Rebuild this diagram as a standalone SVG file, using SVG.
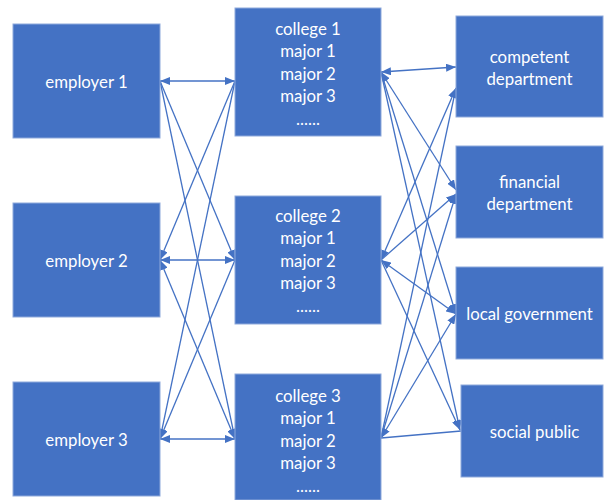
<svg xmlns="http://www.w3.org/2000/svg" width="605" height="500" viewBox="0 0 605 500">
  <style>
    .box { fill: #4472C4; stroke: #8EA9DB; stroke-width: 1; }
    .lbl { fill: #FFFFFF; font-family: Lato, "Liberation Sans", sans-serif; font-size: 16.8px; text-anchor: middle; dominant-baseline: central; }
    .ln { fill: none; stroke: #4472C4; stroke-width: 1.3; }
    .end { marker-end: url(#arrow); }
    .both { marker-start: url(#arrow); marker-end: url(#arrow); }
  </style>
  <defs>
    <marker id="arrow" viewBox="0 0 10 8" refX="10" refY="4" markerWidth="10" markerHeight="8" markerUnits="userSpaceOnUse" orient="auto-start-reverse">
      <path d="M0,0 L10,4 L0,8 z" fill="#4472C4"/>
    </marker>
  </defs>

  <!-- connectors -->
  <g id="connectors">
    <!-- employers to colleges -->
    <line class="ln both" x1="160" y1="81" x2="235" y2="81"/>
    <line class="ln both" x1="160" y1="260" x2="235" y2="260"/>
    <line class="ln both" x1="160" y1="439" x2="235" y2="439"/>
    <line class="ln end" x1="160" y1="81" x2="235" y2="260"/>
    <line class="ln end" x1="160" y1="81" x2="235" y2="439"/>
    <line class="ln end" x1="235" y1="81" x2="160" y2="260"/>
    <line class="ln end" x1="235" y1="81" x2="160" y2="439"/>
    <line class="ln end" x1="235" y1="260" x2="160" y2="439"/>
    <line class="ln both" x1="160" y1="260" x2="235" y2="439"/>
    <!-- colleges to departments -->
    <line class="ln both" x1="381" y1="72" x2="456" y2="67"/>
    <line class="ln both" x1="381" y1="72" x2="456" y2="190"/>
    <line class="ln end" x1="381" y1="72" x2="456" y2="314"/>
    <line class="ln end" x1="381" y1="72" x2="460" y2="430"/>
    <line class="ln both" x1="381" y1="260" x2="456" y2="88"/>
    <line class="ln end" x1="381" y1="260" x2="456" y2="194"/>
    <line class="ln both" x1="381" y1="260" x2="456" y2="314"/>
    <line class="ln end" x1="381" y1="260" x2="460" y2="430"/>
    <line class="ln end" x1="381" y1="438" x2="456" y2="88"/>
    <line class="ln end" x1="381" y1="438" x2="456" y2="194"/>
    <line class="ln both" x1="381" y1="438" x2="456" y2="314"/>
    <line class="ln" x1="381" y1="438" x2="461" y2="431"/>
  </g>

  <g id="employer1">
    <rect class="box" x="13" y="24" width="147" height="114"/>
    <text class="lbl" x="86.5" y="81">employer 1</text>
  </g>
  <g id="employer2">
    <rect class="box" x="13" y="203" width="147" height="114"/>
    <text class="lbl" x="86.5" y="260">employer 2</text>
  </g>
  <g id="employer3">
    <rect class="box" x="13" y="382" width="147" height="114"/>
    <text class="lbl" x="86.5" y="439">employer 3</text>
  </g>

  <g id="college1">
    <rect class="box" x="235" y="8" width="146" height="128"/>
    <text class="lbl" x="308" y="28">college 1</text>
    <text class="lbl" x="308" y="50.5">major 1</text>
    <text class="lbl" x="308" y="73">major 2</text>
    <text class="lbl" x="308" y="95.5">major 3</text>
    <text class="lbl" x="308" y="118">......</text>
  </g>
  <g id="college2">
    <rect class="box" x="235" y="196" width="146" height="128"/>
    <text class="lbl" x="308" y="215">college 2</text>
    <text class="lbl" x="308" y="237.5">major 1</text>
    <text class="lbl" x="308" y="260">major 2</text>
    <text class="lbl" x="308" y="282.5">major 3</text>
    <text class="lbl" x="308" y="305">......</text>
  </g>
  <g id="college3">
    <rect class="box" x="235" y="374" width="146" height="126"/>
    <text class="lbl" x="308" y="395">college 3</text>
    <text class="lbl" x="308" y="417.5">major 1</text>
    <text class="lbl" x="308" y="440">major 2</text>
    <text class="lbl" x="308" y="462.5">major 3</text>
    <text class="lbl" x="308" y="485">......</text>
  </g>

  <g id="competent">
    <rect class="box" x="456" y="16" width="147" height="101"/>
    <text class="lbl" x="529.5" y="56">competent</text>
    <text class="lbl" x="529.5" y="78">department</text>
  </g>
  <g id="financial">
    <rect class="box" x="456" y="146" width="147" height="92"/>
    <text class="lbl" x="529.5" y="181">financial</text>
    <text class="lbl" x="529.5" y="203">department</text>
  </g>
  <g id="local">
    <rect class="box" x="456" y="267" width="147" height="92"/>
    <text class="lbl" x="529.5" y="313">local government</text>
  </g>
  <g id="social">
    <rect class="box" x="461" y="385" width="142" height="92"/>
    <text class="lbl" x="534.5" y="431">social public</text>
  </g>
</svg>
